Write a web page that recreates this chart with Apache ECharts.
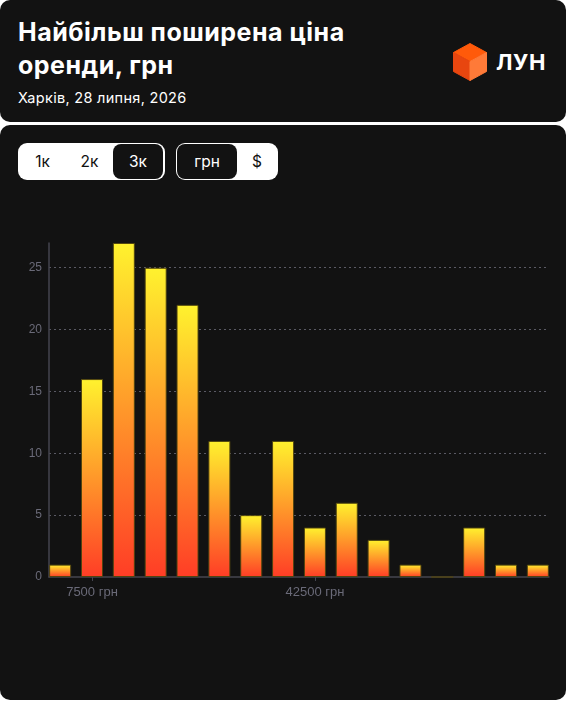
<!DOCTYPE html>
<html>
<head>
<meta charset="utf-8">
<script src="https://cdn.jsdelivr.net/npm/echarts@6/dist/echarts.min.js"></script>
<style>
  html, body { margin: 0; padding: 0; background: #ffffff; }
  body { width: 566px; height: 701px; position: relative; overflow: hidden; font-family: Inter, 'Noto Sans', sans-serif; }
  .head { position: absolute; left: 0; top: 0; width: 566px; height: 122px; background: #121212; border-radius: 10px; }
  .title { position: absolute; left: 18px; top: 16px; color: #fff; font-size: 25px; letter-spacing: 0.5px; line-height: 33px; font-weight: 700; }
  .sub { position: absolute; left: 18px; top: 88px; color: #fff; font-size: 14.5px; letter-spacing: 0.3px; line-height: 20px; }
  .logo { position: absolute; left: 453px; top: 43px; }
  .brand { position: absolute; left: 496px; top: 47px; color: #fff; font-size: 22px; letter-spacing: 0.6px; font-weight: 700; line-height: 30px; }
  .card { position: absolute; left: 0; top: 125px; width: 566px; height: 575px; background: #121212; border-radius: 10px; }
  .seg { position: absolute; top: 18px; height: 37px; background: #fff; border-radius: 9px; display: flex; align-items: center; box-sizing: border-box; padding: 0 1px; }
  .seg span { font-size: 15.5px; color: #111; display: inline-block; text-align: center; }
  .seg span.on { background: #121212; color: #fff; height: 35px; line-height: 35px; border-radius: 8px; }
  #chart { position: absolute; left: 0; top: 0; width: 566px; height: 575px; }
</style>
</head>
<body>
<div class="head">
  <div class="title">Найбільш поширена ціна<br>оренди, грн</div>
  <div class="sub">Харків, 28 липня, 2026</div>
  <svg class="logo" width="34" height="38" viewBox="0 0 34 38">
    <polygon points="17,0.5 33.5,9.5 17,18.5 0.5,9.5" fill="#ff5a0a" stroke="#ff5a0a" stroke-width="1" stroke-linejoin="round"/>
    <polygon points="0.5,9.5 17,18.5 17,37.5 0.5,28.5" fill="#e8460f" stroke="#e8460f" stroke-width="1" stroke-linejoin="round"/>
    <polygon points="17,18.5 33.5,9.5 33.5,28.5 17,37.5" fill="#ff7a38" stroke="#ff7a38" stroke-width="1" stroke-linejoin="round"/>
  </svg>
  <div class="brand">ЛУН</div>
</div>
<div class="card">
  <div id="chart"></div>
  <div class="seg" style="left:18px;width:147px;">
    <span style="width:47px;">1к</span><span style="width:47px;">2к</span><span class="on" style="width:50px;">3к</span>
  </div>
  <div class="seg" style="left:176px;width:102px;">
    <span class="on" style="width:60px;">грн</span><span style="width:40px;">$</span>
  </div>
</div>
<script>
// центри інтервалів цін, грн
const binCenters = [2500, 7500, 12500, 17500, 22500, 27500, 32500, 37500, 42500, 47500, 52500, 57500, 62500, 67500, 72500, 77500]
// кількість оголошень
const counts = [1, 16, 27, 25, 22, 11, 5, 11, 4, 6, 3, 1, 0, 4, 1, 1]
const xLabelValues = [7500, 42500]

const chart = echarts.init(document.getElementById('chart'))
const axisColor = '#45454f'
const labelColor = '#6a6a78'

chart.setOption({
  animation: false,
  grid: { left: 49, right: 17, top: 118, bottom: 123 },
  xAxis: {
    type: 'value',
    min: 750,
    max: 79250,
    axisLine: { show: true, lineStyle: { color: axisColor, width: 1.5 } },
    axisTick: { show: true, customValues: xLabelValues, length: 4, lineStyle: { color: axisColor } },
    axisLabel: {
      customValues: xLabelValues,
      color: labelColor,
      fontSize: 13,
      margin: 9,
      formatter: (v) => v + ' грн',
    },
    splitLine: { show: false },
  },
  yAxis: {
    type: 'value',
    min: 0,
    max: 'dataMax',
    interval: 5,
    axisLine: { show: true, lineStyle: { color: axisColor, width: 1.5 } },
    axisTick: { show: false },
    axisLabel: { color: labelColor, fontSize: 12, margin: 7, showMaxLabel: false },
    splitLine: {
      show: true,
      showMinLine: false,
      showMaxLine: false,
      lineStyle: { color: '#5a5a64', type: [2, 3] },
    },
  },
  series: [
    {
      type: 'bar',
      barWidth: 22,
      data: binCenters.map((x, i) => [x, counts[i]]),
      itemStyle: {
        color: new echarts.graphic.LinearGradient(0, 0, 0, 1, [
          { offset: 0, color: '#fff22e' },
          { offset: 1, color: '#ff3d26' },
        ]),
        borderColor: 'rgba(80,68,15,0.95)',
        borderWidth: 1,
      },
    },
  ],
})
</script>
</body>
</html>
